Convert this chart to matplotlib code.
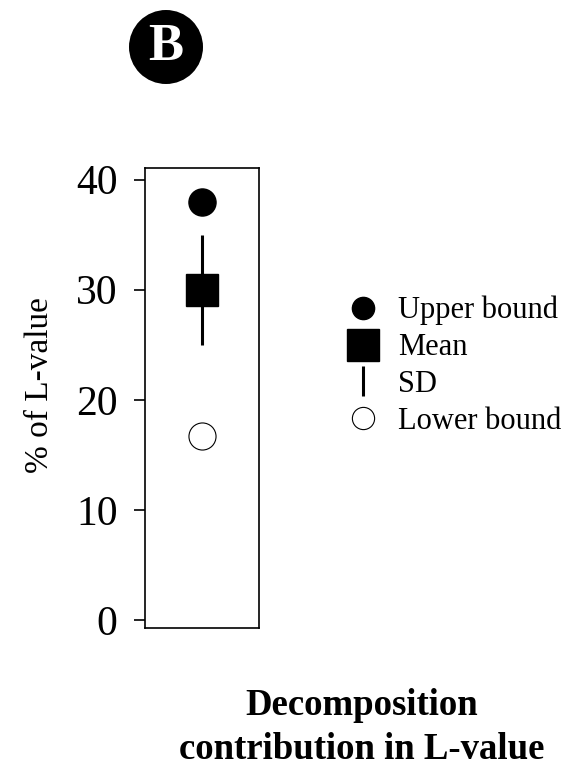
import matplotlib
matplotlib.use("Agg")
import matplotlib.pyplot as plt
from matplotlib.lines import Line2D
from matplotlib.patches import Ellipse

plt.rcParams['font.family'] = ['Liberation Serif', 'DejaVu Serif']

# Data
category = ["Decomposition contribution in L-value"]
upper_bound = [38.0]
mean_val = [30.0]
sd_val = [5.0]
lower_bound = [16.7]
yticks = [0, 10, 20, 30, 40]
legend_labels = ["Upper bound", "Mean", "SD", "Lower bound"]

W, H = 572, 772
fig = plt.figure(figsize=(W / 100, H / 100), dpi=100)
ax = fig.add_axes([0.254, 0.187, 0.198, 0.596])

x = [0]
ax.errorbar(x, mean_val, yerr=sd_val, fmt='none', ecolor='black', elinewidth=2.2, capsize=0, zorder=2)
ax.plot(x, mean_val, linestyle='none', marker='s', markersize=23, color='black', zorder=3)
ax.plot(x, upper_bound, linestyle='none', marker='o', markersize=19.5, color='black', zorder=3)
ax.plot(x, lower_bound, linestyle='none', marker='o', markersize=19.5, markerfacecolor='white',
        markeredgecolor='black', markeredgewidth=0.8, zorder=3)

ax.set_xlim(-1, 1)
ax.set_ylim(-0.7, 41.1)
ax.set_xticks([])
ax.set_yticks(yticks)
ax.set_yticklabels([str(t) for t in yticks], fontsize=30)
ax.tick_params(axis='y', direction='out', length=8, width=1.2, pad=12)
for s in ax.spines.values():
    s.set_linewidth(1.2)

ax.set_ylabel("% of L-value", fontsize=24)
ax.yaxis.set_label_coords(-0.80, 0.527)

# Legend
handles = [
    Line2D([], [], linestyle='none', marker='o', markersize=16, color='black'),
    Line2D([], [], linestyle='none', marker='s', markersize=23, color='black'),
    Line2D([], [], linestyle='none', marker='|', markersize=21, markeredgewidth=2.2, color='black'),
    Line2D([], [], linestyle='none', marker='o', markersize=16, markerfacecolor='white',
           markeredgecolor='black', markeredgewidth=0.8),
]
fig.legend(handles, legend_labels, loc='center left', bbox_to_anchor=(0.608, 0.526),
           frameon=False, fontsize=22, handlelength=1.0, handletextpad=0.64,
           labelspacing=0.26, borderpad=0, borderaxespad=0)

# Bottom label
fig.text(0.633, 0.058, "Decomposition\ncontribution in L-value", ha='center', va='center',
         fontsize=26.5, fontweight='bold', linespacing=1.33)

# Panel badge
cx, cy, r = 166, 47, 37
badge = Ellipse((cx / W, 1 - cy / H), 2 * r / W, 2 * r / H, transform=fig.transFigure,
                facecolor='black', edgecolor='none')
fig.patches.append(badge)
fig.text(cx / W, 1 - cy / H, "B", ha='center', va='center', color='white',
         fontsize=38, fontweight='bold')

fig.savefig("out.png", dpi=100)
